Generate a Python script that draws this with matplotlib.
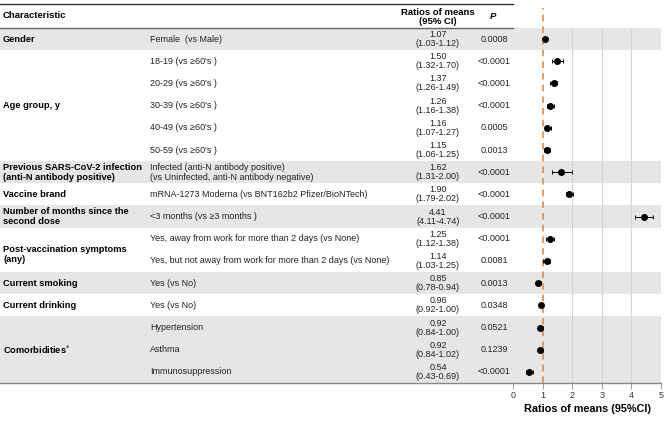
import matplotlib.pyplot as plt
import matplotlib.patches as patches
from matplotlib.transforms import blended_transform_factory

plt.rcParams['font.family'] = ['Liberation Sans', 'DejaVu Sans']

# ---- data ----
comparisons = [
    "Female  (vs Male)",
    "18-19 (vs \u226560's )",
    "20-29 (vs \u226560's )",
    "30-39 (vs \u226560's )",
    "40-49 (vs \u226560's )",
    "50-59 (vs \u226560's )",
    "Infected (anti-N antibody positive)\n(vs Uninfected, anti-N antibody negative)",
    "mRNA-1273 Moderna (vs BNT162b2 Pfizer/BioNTech)",
    "<3 months (vs \u22653 months )",
    "Yes, away from work for more than 2 days (vs None)",
    "Yes, but not away from work for more than 2 days (vs None)",
    "Yes (vs No)",
    "Yes (vs No)",
    "Hypertension",
    "Asthma",
    "Immunosuppression",
]
ratio = [1.07, 1.50, 1.37, 1.26, 1.16, 1.15, 1.62, 1.90, 4.41, 1.25, 1.14,
         0.85, 0.96, 0.92, 0.92, 0.54]
ci_low = [1.03, 1.32, 1.26, 1.16, 1.07, 1.06, 1.31, 1.79, 4.11, 1.12, 1.03,
          0.78, 0.92, 0.84, 0.84, 0.43]
ci_high = [1.12, 1.70, 1.49, 1.38, 1.27, 1.25, 2.00, 2.02, 4.74, 1.38, 1.25,
           0.94, 1.00, 1.00, 1.02, 0.69]
p_values = ["0.0008", "<0.0001", "<0.0001", "<0.0001", "0.0005", "0.0013",
            "<0.0001", "<0.0001", "<0.0001", "<0.0001", "0.0081", "0.0013",
            "0.0348", "0.0521", "0.1239", "<0.0001"]

# characteristic label, row position
characteristics = [
    ("Gender", 0),
    ("Age group, y", 3),
    ("Previous SARS-CoV-2 infection\n(anti-N antibody positive)", 6),
    ("Vaccine brand", 7),
    ("Number of months since the\nsecond dose", 8),
    ("Post-vaccination symptoms\n(any)", 9.72),
    ("Current smoking", 11),
    ("Current drinking", 12),
    (r"Comorbidities$^{*}$", 14),
]
shaded_rows = [(0, 0), (6, 6), (8, 8), (11, 11), (13, 15)]
xticks = [0, 1, 2, 3, 4, 5]

W, H = 668, 421
fig = plt.figure(figsize=(W / 100, H / 100), dpi=100)
ax = fig.add_axes([513 / W, 1 - 383 / H, (661 - 513) / W, (383 - 8) / H])
ax.patch.set_visible(False)
ax.set_xlim(0, 5)
ax.set_ylim(15.5, -1.4)

trans = blended_transform_factory(fig.transFigure, ax.transData)
x_right = 661 / W

# grey bands
for r0, r1 in shaded_rows:
    ax.add_patch(patches.Rectangle((0, r0 - 0.5), x_right, r1 - r0 + 1,
                                   transform=trans, color="#e6e6e6",
                                   lw=0, zorder=0.5, clip_on=False))

# table rules
ax.plot([0, 513 / W], [-1.58, -1.58], transform=trans, color="#333333",
        lw=1.0, clip_on=False)
ax.plot([0, 513 / W], [-0.5, -0.5], transform=trans, color="#666666",
        lw=1.0, clip_on=False)
ax.plot([0, 513 / W], [15.5, 15.5], transform=trans, color="#888888",
        lw=1.0, clip_on=False)

# headers
ax.text(3 / W, -1.04, "Characteristic", transform=trans, fontsize=6.8,
        fontweight="bold", va="center", ha="left")
ax.text(438 / W, -1.0, "Ratios of means\n(95% CI)", transform=trans,
        fontsize=6.8, fontweight="bold", va="center", ha="center",
        linespacing=1.1)
ax.text(493 / W, -1.0, "P", transform=trans, fontsize=6.8,
        fontweight="bold", style="italic", va="center", ha="center")

for label, row in characteristics:
    ax.text(3 / W, row, label, transform=trans, fontsize=6.7,
            fontweight="bold", va="center", ha="left", linespacing=1.15)

for i, comp in enumerate(comparisons):
    ax.text(150 / W, i, comp, transform=trans, fontsize=6.5, va="center",
            ha="left", color="#222222", linespacing=1.15)
    ax.text(438 / W, i, f"{ratio[i]:.2f}\n({ci_low[i]:.2f}-{ci_high[i]:.2f})",
            transform=trans, fontsize=6.5, va="center", ha="center",
            color="#222222", linespacing=1.0)
    ax.text(494 / W, i, p_values[i], transform=trans, fontsize=6.5,
            va="center", ha="center", color="#222222")

# forest plot
ax.vlines([2, 3, 4, 5], -0.5, 15.5, color="#d4d4d4", lw=0.8, zorder=1)
ax.axvline(1, color="#ee8a3c", lw=1.2, ls=(0, (4, 3)), zorder=2)
rows = list(range(len(ratio)))
xerr = [[r - lo for r, lo in zip(ratio, ci_low)],
        [hi - r for r, hi in zip(ratio, ci_high)]]
ax.errorbar(ratio, rows, xerr=xerr, fmt="o", color="black", ms=4,
            elinewidth=0.7, capsize=1.5, capthick=0.7, zorder=3)

for s in ["top", "left", "right"]:
    ax.spines[s].set_visible(False)
ax.spines["bottom"].set_color("#888888")
ax.spines["bottom"].set_linewidth(1.0)
ax.set_yticks([])
ax.set_xticks(xticks)
ax.tick_params(axis="x", labelsize=6.5, colors="#333333", length=4,
               width=0.6, pad=1.5)
ax.tick_params(axis="x", color="#888888")
ax.set_xlabel("Ratios of means (95%CI)", fontsize=7.8, fontweight="bold",
              labelpad=3)

fig.savefig("out.png", dpi=100)
